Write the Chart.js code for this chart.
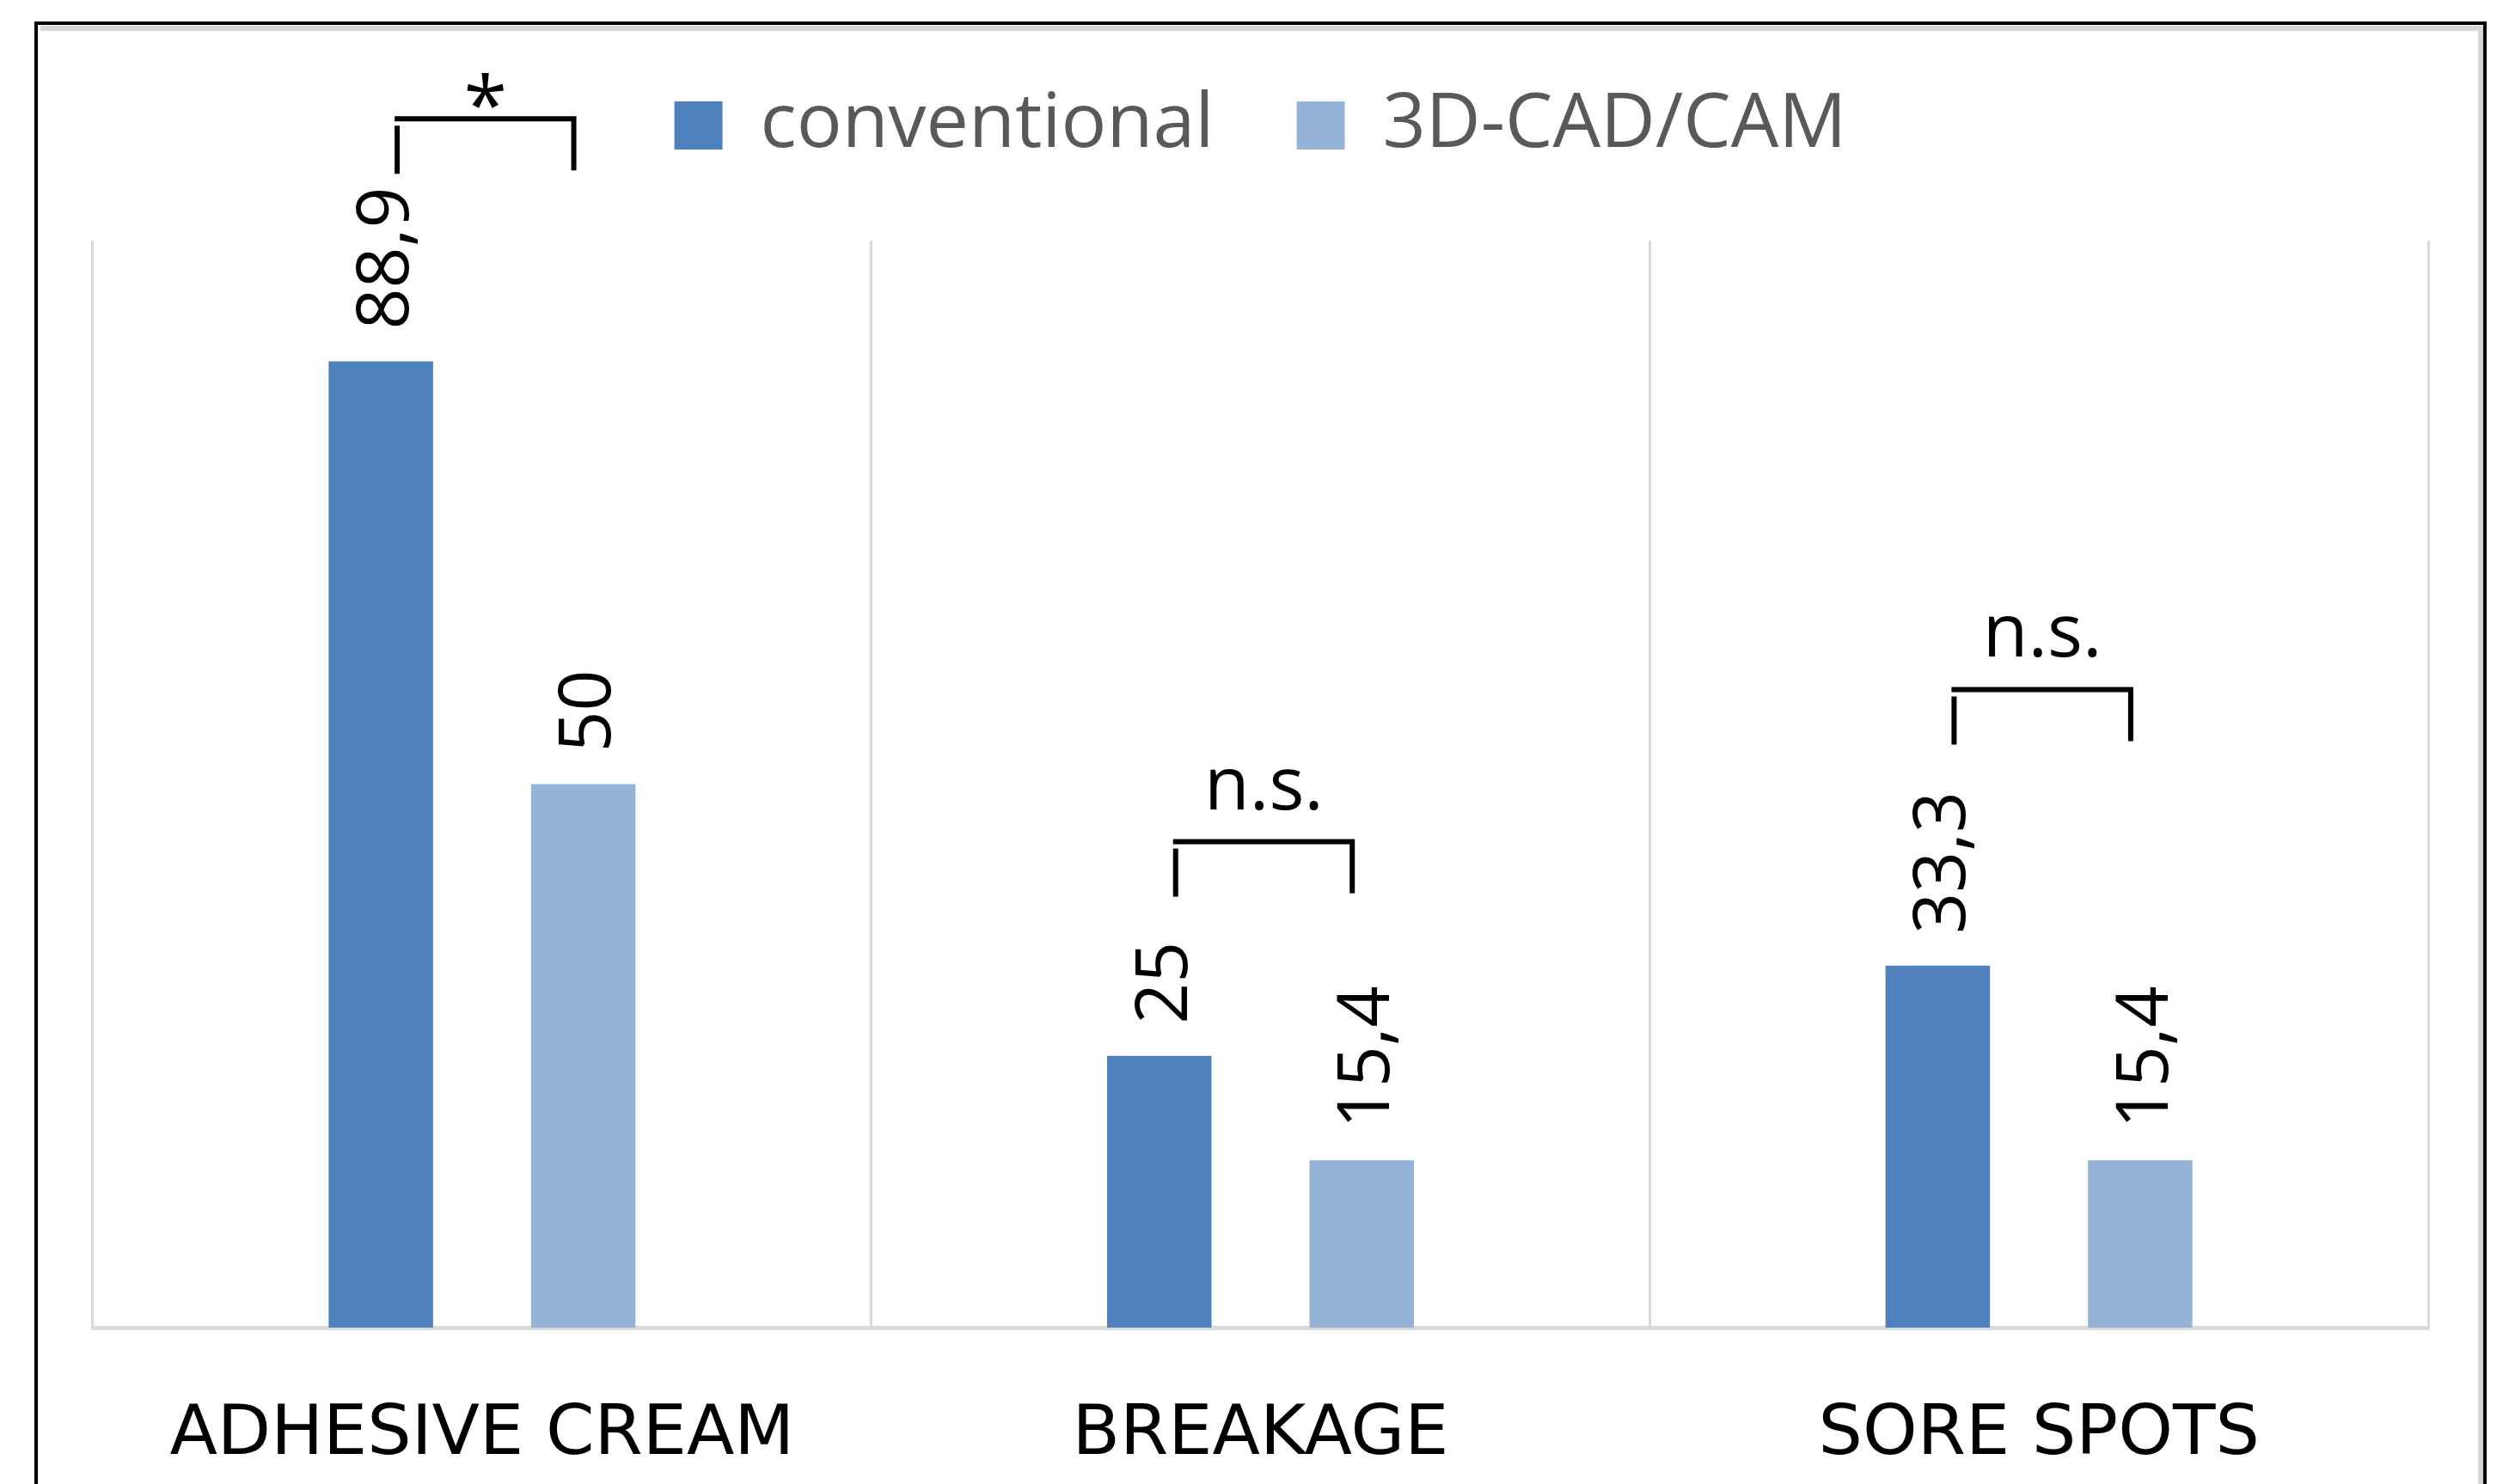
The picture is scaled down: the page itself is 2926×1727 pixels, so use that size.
<!DOCTYPE html>
<html>
<head>
<meta charset="utf-8">
<title>Complications: conventional vs 3D-CAD/CAM</title>
<script src="https://cdn.jsdelivr.net/npm/chart.js@4.4.1/dist/chart.umd.min.js"></script>
<style>
  html, body { margin: 0; padding: 0; background: #fff; }
  #wrap { width: 2926px; height: 1727px; }
</style>
</head>
<body>
<div id="wrap"><canvas id="chart"></canvas></div>
<script>
// data (percent)
const categories = ['ADHESIVE CREAM', 'BREAKAGE', 'SORE SPOTS'];
const seriesNames = ['conventional', '3D-CAD/CAM'];
const conventional = [88.9, 25, 33.3];
const cadcam = [50, 15.4, 15.4];
// significance brackets: text and height of the bracket (same units as the bars)
const sigLabels = ['*', 'n.s.', 'n.s.'];
const sigLevels = [111.2, 44.7, 58.7];
const yMax = 100;

// white page with the black frame round it
const framePlugin = {
  id: 'frame',
  beforeInit(chart) {
    // leave room between the legend and the plot
    const fit = chart.legend.fit;
    chart.legend.fit = function () {
      fit.call(this);
      this.height += 80;
    };
  },
  beforeDraw(chart) {
    const ctx = chart.ctx;
    const h = chart.height;
    ctx.save();
    ctx.fillStyle = '#fff';
    ctx.fillRect(0, 0, chart.width, h);
    ctx.strokeStyle = '#d6d6d6';
    ctx.lineWidth = 6;
    ctx.beginPath();
    ctx.moveTo(47, 33);
    ctx.lineTo(2886, 33);
    ctx.lineTo(2886, h + 10);
    ctx.stroke();
    ctx.strokeStyle = '#000';
    ctx.lineWidth = 4;
    ctx.beginPath();
    ctx.moveTo(42, h + 10);
    ctx.lineTo(42, 27);
    ctx.lineTo(2891, 27);
    ctx.lineTo(2891, h + 10);
    ctx.stroke();
    ctx.restore();
  }
};

// rotated value labels + significance brackets
const markPlugin = {
  id: 'marks',
  afterDatasetsDraw(chart) {
    const ctx = chart.ctx;
    const yScale = chart.scales.y;
    ctx.save();
    ctx.fillStyle = '#000';
    ctx.font = '84px "Open Sans"';
    ctx.textAlign = 'left';
    ctx.textBaseline = 'middle';
    chart.data.datasets.forEach((ds, i) => {
      chart.getDatasetMeta(i).data.forEach((bar, j) => {
        const txt = String(ds.data[j]).replace('.', ',');
        ctx.save();
        ctx.translate(bar.x + 8, bar.y - 37);
        ctx.rotate(-Math.PI / 2);
        ctx.fillText(txt, 0, 0);
        ctx.restore();
      });
    });

    ctx.strokeStyle = '#000';
    ctx.lineWidth = 6;
    ctx.textAlign = 'center';
    ctx.textBaseline = 'alphabetic';
    sigLabels.forEach((lab, j) => {
      const a = chart.getDatasetMeta(0).data[j].x + 19;
      const b = chart.getDatasetMeta(1).data[j].x - 11;
      const top = yScale.getPixelForValue(sigLevels[j]);
      ctx.beginPath();
      ctx.moveTo(a, top + 8);
      ctx.lineTo(a, top + 64);
      ctx.moveTo(a - 3, top);
      ctx.lineTo(b, top);
      ctx.lineTo(b, top + 60);
      ctx.stroke();

      ctx.font = lab === '*' ? '92px "Open Sans"' : '86px "Open Sans"';
      const m = ctx.measureText(lab);
      const gap = lab === '*' ? 12 : 37;
      ctx.fillText(lab, (a + b) / 2, top - gap - m.actualBoundingBoxDescent);
    });
    ctx.restore();
  }
};

new Chart(document.getElementById('chart'), {
  type: 'bar',
  data: {
    labels: categories,
    datasets: [
      { label: seriesNames[0], data: conventional, backgroundColor: '#4F81BD', borderWidth: 0 },
      { label: seriesNames[1], data: cadcam, backgroundColor: '#95B3D7', borderWidth: 0 }
    ]
  },
  options: {
    responsive: true,
    maintainAspectRatio: false,
    animation: false,
    devicePixelRatio: 1,
    datasets: {
      bar: { categoryPercentage: 0.52, barPercentage: 0.516 }
    },
    layout: { padding: { left: 108, right: 101, top: 6, bottom: 11 } },
    plugins: {
      legend: {
        position: 'top',
        labels: {
          boxWidth: 56,
          boxHeight: 56,
          padding: 96,
          color: '#595959',
          font: { family: 'Open Sans', size: 88 }
        }
      },
      tooltip: { enabled: false }
    },
    scales: {
      x: {
        grid: { offset: true, color: '#D9D9D9', lineWidth: 3, drawTicks: false },
        border: { color: '#D9D9D9', width: 5 },
        ticks: { color: '#000', padding: 77, font: { family: 'DejaVu Sans', size: 81 } },
        afterFit(scale) { scale.height = 171; }
      },
      y: { display: false, min: 0, max: yMax }
    }
  },
  plugins: [framePlugin, markPlugin]
});
</script>
</body>
</html>
